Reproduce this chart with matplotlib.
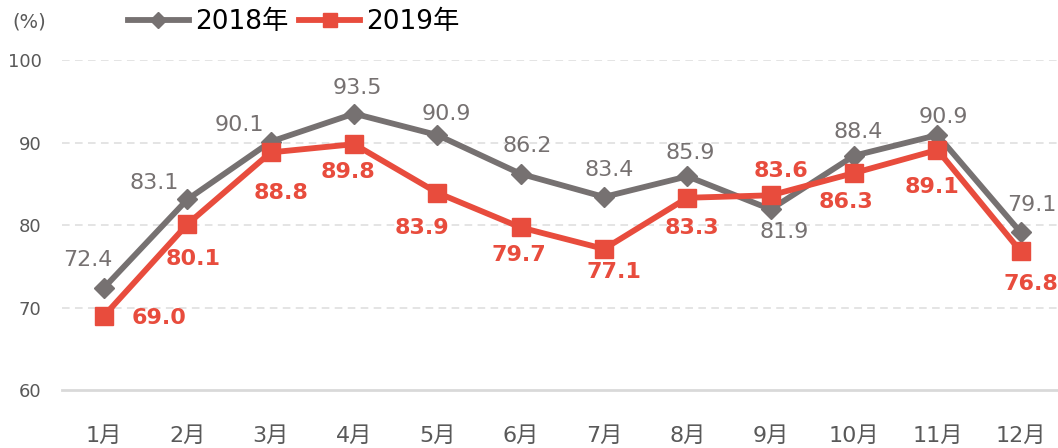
import matplotlib
matplotlib.use("Agg")
import matplotlib.pyplot as plt

plt.rcParams['font.family'] = ['DejaVu Sans', 'Noto Sans CJK JP']

months = ['1月', '2月', '3月', '4月', '5月', '6月', '7月', '8月', '9月', '10月', '11月', '12月']
v2018 = [72.4, 83.1, 90.1, 93.5, 90.9, 86.2, 83.4, 85.9, 81.9, 88.4, 90.9, 79.1]
v2019 = [69.0, 80.1, 88.8, 89.8, 83.9, 79.7, 77.1, 83.3, 83.6, 86.3, 89.1, 76.8]
yticks = [60, 70, 80, 90, 100]

# label offsets in pixels (dx, dy)
off2018 = [(-16, 28), (-33, 16), (-31, 17), (3, 26), (9, 21), (6, 28),
           (5, 27), (3, 23), (13, -23), (4, 24), (6, 18), (11, 27)]
off2019 = [(55, -2), (6, -35), (10, -41), (-6, -28), (-15, -35), (-2, -28),
           (10, -23), (5, -30), (10, 24), (-8, -29), (-5, -37), (10, -33)]

GRAY = '#767171'
RED = '#E84C3D'
TXT = '#595959'

fig = plt.figure(figsize=(10.58, 4.48), dpi=100)
ax = fig.add_axes([62.4 / 1058, 58 / 448, 1000 / 1058, 330 / 448])

x = list(range(len(months)))
ax.plot(x, v2018, color=GRAY, lw=4.2, marker='D', ms=10, label='2018年', zorder=3,
        solid_joinstyle='miter')
ax.plot(x, v2019, color=RED, lw=4.2, marker='s', ms=12.5, label='2019年', zorder=4,
        solid_joinstyle='miter')

for xi, v, (dx, dy) in zip(x, v2018, off2018):
    ax.annotate(f'{v:.1f}', (xi, v), xytext=(dx, dy), textcoords='offset pixels',
                ha='center', va='center', fontsize=16, color=GRAY, zorder=5)
for xi, v, (dx, dy) in zip(x, v2019, off2019):
    ax.annotate(f'{v:.1f}', (xi, v), xytext=(dx, dy), textcoords='offset pixels',
                ha='center', va='center', fontsize=16, color=RED, fontweight='bold', zorder=5)

ax.set_xlim(-0.5, len(months) - 0.5)
ax.set_ylim(60, 100)
ax.set_yticks(yticks)
ax.set_xticks(x)
ax.set_xticklabels(months)
for yv in yticks[1:]:
    ax.axhline(yv, color='#DDDDDD', lw=1.1, dashes=(5, 3.5), zorder=1)
for s in ['top', 'right', 'left']:
    ax.spines[s].set_visible(False)
ax.spines['bottom'].set_color('#D9D9D9')
ax.spines['bottom'].set_linewidth(2)
ax.tick_params(axis='both', length=0)
ax.tick_params(axis='y', labelsize=13, labelcolor=TXT, pad=15)
ax.tick_params(axis='x', labelsize=16, labelcolor=TXT, pad=26)

fig.text(12 / 1058, 1 - 22 / 448, '(%)', fontsize=14, color=TXT, va='center', ha='left')

fig.legend(loc='center left', bbox_to_anchor=(128 / 1058, 1 - 22 / 448), ncol=2, frameon=False,
           fontsize=19, handlelength=2.3, handletextpad=0.25, columnspacing=0.4,
           borderpad=0, borderaxespad=0, markerscale=0.85)

fig.savefig('out.png', dpi=100)
